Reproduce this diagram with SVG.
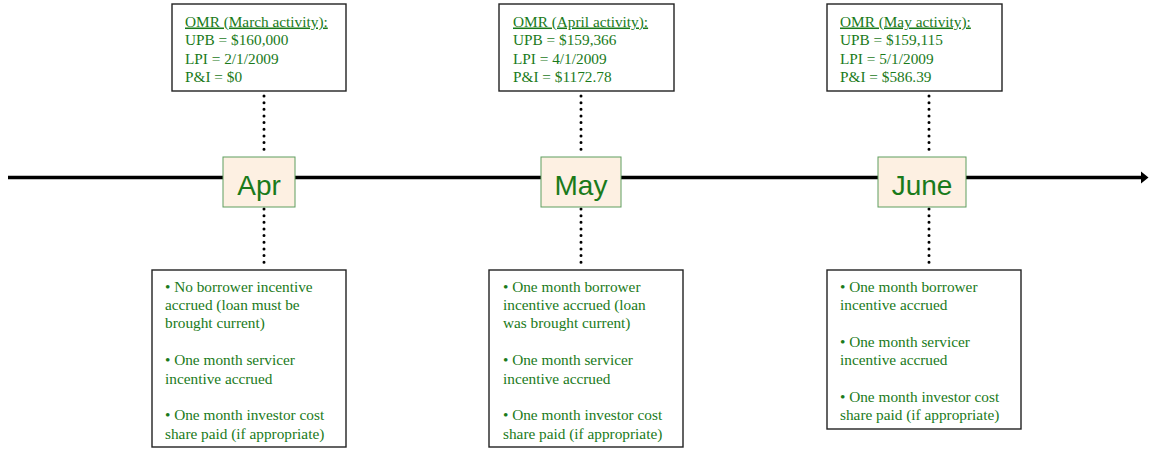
<svg xmlns="http://www.w3.org/2000/svg" width="1149" height="450" viewBox="0 0 1149 450">
<style>
.box{fill:#ffffff;stroke:#222222;stroke-width:1.4}
.mon{fill:#fdf0e2;stroke:#5e9e5e;stroke-width:1}
.t{font-family:"Liberation Serif","Times New Roman",serif;font-size:15.3px;fill:#1a7a1a}
.m{font-family:"Liberation Sans",Arial,sans-serif;font-size:28px;fill:#1a7a1a;text-anchor:middle}
.dot{stroke:#000;stroke-width:3;stroke-linecap:round;stroke-dasharray:0 6.65;fill:none}
</style>
<rect width="1149" height="450" fill="#ffffff"/>
<g id="connectors">
<line x1="8" y1="177.5" x2="1142" y2="177.5" stroke="#000" stroke-width="3.5"/>
<polygon points="1141,171.5 1148.5,177.5 1141,183.5" fill="#000"/>
<line class="dot" x1="264" y1="96" x2="264" y2="150"/>
<line class="dot" x1="264" y1="209" x2="264" y2="263"/>
<line class="dot" x1="581" y1="96" x2="581" y2="150"/>
<line class="dot" x1="581" y1="209" x2="581" y2="263"/>
<line class="dot" x1="929" y1="96" x2="929" y2="150"/>
<line class="dot" x1="929" y1="209" x2="929" y2="263"/>
</g>
<g id="omr-march">
<rect class="box" x="172" y="4" width="174" height="87"/>
<text class="t" x="185" y="26.5" text-decoration="underline">OMR (March activity):</text>
<text class="t" x="185" y="45">UPB = $160,000</text>
<text class="t" x="185" y="63.5">LPI = 2/1/2009</text>
<text class="t" x="185" y="82">P&amp;I = $0</text>
</g>
<g id="omr-april">
<rect class="box" x="499" y="4" width="175" height="87"/>
<text class="t" x="513" y="26.5" text-decoration="underline">OMR (April activity):</text>
<text class="t" x="513" y="45">UPB = $159,366</text>
<text class="t" x="513" y="63.5">LPI = 4/1/2009</text>
<text class="t" x="513" y="82">P&amp;I = $1172.78</text>
</g>
<g id="omr-may">
<rect class="box" x="827" y="4" width="175" height="87"/>
<text class="t" x="840" y="26.5" text-decoration="underline">OMR (May activity):</text>
<text class="t" x="840" y="45">UPB = $159,115</text>
<text class="t" x="840" y="63.5">LPI = 5/1/2009</text>
<text class="t" x="840" y="82">P&amp;I = $586.39</text>
</g>
<g id="apr">
<rect class="mon" x="223" y="157" width="72" height="50"/>
<text class="m" x="259" y="195">Apr</text>
</g>
<g id="may">
<rect class="mon" x="541" y="157" width="80" height="50"/>
<text class="m" x="581" y="195">May</text>
</g>
<g id="june">
<rect class="mon" x="878" y="157" width="88" height="50"/>
<text class="m" x="922" y="195">June</text>
</g>
<g id="notes-apr">
<rect class="box" x="152" y="270" width="194" height="177"/>
<text class="t" x="165" y="291.5">• No borrower incentive</text>
<text class="t" x="165" y="309.9">accrued (loan must be</text>
<text class="t" x="165" y="328.3">brought current)</text>
<text class="t" x="165" y="365.1">• One month servicer</text>
<text class="t" x="165" y="383.5">incentive accrued</text>
<text class="t" x="165" y="420.3">• One month investor cost</text>
<text class="t" x="165" y="438.7">share paid (if appropriate)</text>
</g>
<g id="notes-may">
<rect class="box" x="489" y="270" width="194" height="177"/>
<text class="t" x="503" y="291.5">• One month borrower</text>
<text class="t" x="503" y="309.9">incentive accrued (loan</text>
<text class="t" x="503" y="328.3">was brought current)</text>
<text class="t" x="503" y="365.1">• One month servicer</text>
<text class="t" x="503" y="383.5">incentive accrued</text>
<text class="t" x="503" y="420.3">• One month investor cost</text>
<text class="t" x="503" y="438.7">share paid (if appropriate)</text>
</g>
<g id="notes-june">
<rect class="box" x="827" y="270" width="194" height="159"/>
<text class="t" x="840" y="291.5">• One month borrower</text>
<text class="t" x="840" y="309.9">incentive accrued</text>
<text class="t" x="840" y="346.7">• One month servicer</text>
<text class="t" x="840" y="365.1">incentive accrued</text>
<text class="t" x="840" y="401.9">• One month investor cost</text>
<text class="t" x="840" y="420.3">share paid (if appropriate)</text>
</g>
</svg>
